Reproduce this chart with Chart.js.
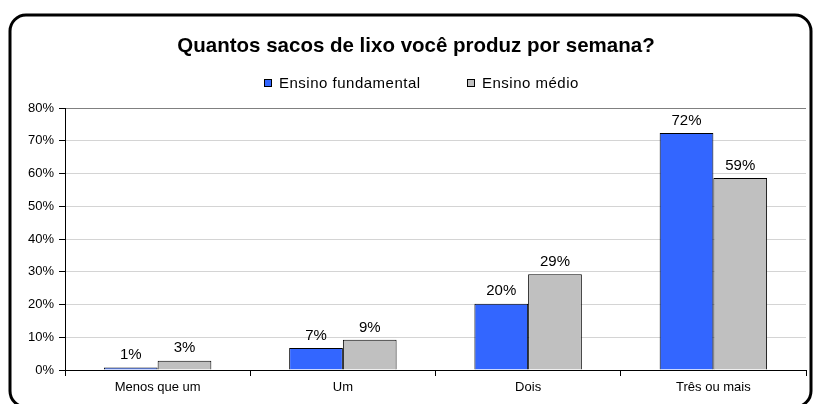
<!DOCTYPE html>
<html>
<head>
<meta charset="utf-8">
<script src="https://cdn.jsdelivr.net/npm/chart.js@4/dist/chart.umd.min.js"></script>
<style>
  html, body { margin: 0; padding: 0; background: #fff; }
  #wrap { position: relative; width: 813px; height: 404px; }
</style>
</head>
<body>
<div id="wrap"><canvas id="chart-lixo" width="813" height="404"></canvas></div>
<script>
var chartTitle = 'Quantos sacos de lixo você produz por semana?';
var categories = ['Menos que um', 'Um', 'Dois', 'Três ou mais'];
var seriesNames = ['Ensino fundamental', 'Ensino médio'];
var fundamental = [0.8, 6.7, 20.2, 72.4];
var medio = [2.8, 9.2, 29.2, 58.6];
var yTicks = [0, 10, 20, 30, 40, 50, 60, 70, 80];

var FONT = '"Liberation Sans", Arial, sans-serif';

// rounded frame around the whole chart
var framePlugin = {
    id: 'frame',
    afterDraw: function (chart) {
        var ctx = chart.ctx;
        ctx.save();
        ctx.strokeStyle = '#000';
        ctx.lineWidth = 3;
        ctx.beginPath();
        ctx.roundRect(10, 15, 801, 392, 16);
        ctx.stroke();
        ctx.restore();
    }
};

// value labels above bars
var barLabels = {
    id: 'barLabels',
    afterDatasetsDraw: function (chart) {
        var ctx = chart.ctx;
        ctx.save();
        ctx.font = '15px ' + FONT;
        ctx.fillStyle = '#000';
        ctx.textAlign = 'center';
        ctx.textBaseline = 'bottom';
        chart.data.datasets.forEach(function (ds, i) {
            chart.getDatasetMeta(i).data.forEach(function (bar, j) {
                ctx.fillText(Math.round(ds.data[j]) + '%', bar.x, bar.y - 5);
            });
        });
        ctx.restore();
    }
};

// title + legend drawn from the datasets, with wide gap between items
var headerPlugin = {
    id: 'header',
    afterDraw: function (chart) {
        var ctx = chart.ctx;
        var xs = [264, 467];
        ctx.save();
        ctx.fillStyle = '#000';
        ctx.font = 'bold 20.5px ' + FONT;
        ctx.textAlign = 'center';
        ctx.textBaseline = 'middle';
        ctx.fillText(chartTitle, 416, 46);

        ctx.textAlign = 'left';
        ctx.font = '15px ' + FONT;
        ctx.letterSpacing = '0.5px';
        chart.data.datasets.forEach(function (ds, i) {
            var x = xs[i];
            ctx.fillStyle = ds.backgroundColor;
            ctx.fillRect(x, 79, 8, 8);
            ctx.strokeStyle = '#000';
            ctx.lineWidth = 1;
            ctx.strokeRect(x + 0.5, 79.5, 7, 7);
            ctx.fillStyle = '#000';
            ctx.fillText(ds.label, x + 15, 84);
        });
        ctx.restore();
    }
};

const ctx1 = document.getElementById('chart-lixo').getContext('2d');
var chartData = {
    labels: categories,
    datasets: [{
        label: seriesNames[0],
        data: fundamental,
        backgroundColor: '#3366FF',
        borderColor: '#000',
        borderWidth: 1,
        borderSkipped: 'bottom'
    }, {
        label: seriesNames[1],
        data: medio,
        backgroundColor: '#C0C0C0',
        borderColor: '#000',
        borderWidth: 1,
        borderSkipped: 'bottom'
    }]
};

var chart1 = new Chart(ctx1, {
    type: 'bar',
    data: chartData,
    plugins: [framePlugin, barLabels, headerPlugin],
    options: {
        responsive: false,
        animation: false,
        layout: { padding: { left: 0, right: 7, top: 108, bottom: 0 } },
        datasets: {
            bar: { categoryPercentage: 0.58, barPercentage: 1.0 }
        },
        plugins: {
            legend: { display: false },
            tooltip: { enabled: false },
            title: { display: false }
        },
        scales: {
            x: {
                grid: {
                    offset: true,
                    drawOnChartArea: false,
                    drawTicks: true,
                    tickLength: 6,
                    tickColor: '#000'
                },
                border: { color: '#000', width: 1 },
                ticks: {
                    color: '#000',
                    font: { family: FONT, size: 13 },
                    padding: 4,
                    maxRotation: 0
                },
                afterFit: function (scale) { scale.height = 34; }
            },
            y: {
                min: 0,
                max: 80,
                afterBuildTicks: function (scale) {
                    scale.ticks = yTicks.map(function (v) { return { value: v }; });
                },
                grid: {
                    color: function (c) { return c.tick && c.tick.value === 80 ? '#808080' : '#d4d4d4'; },
                    tickColor: '#000',
                    tickLength: 6
                },
                border: { color: '#000', width: 1 },
                ticks: {
                    color: '#000',
                    font: { family: FONT, size: 13 },
                    padding: 5,
                    callback: function (v) { return v + '%'; }
                },
                afterFit: function (scale) { scale.width = 65; }
            }
        }
    }
});
</script>
</body>
</html>
